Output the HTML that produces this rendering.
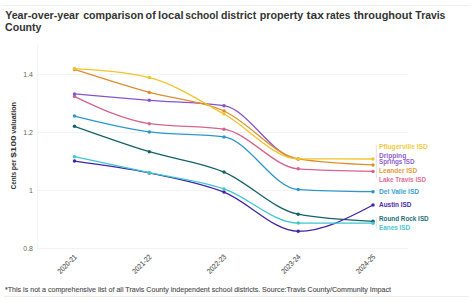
<!DOCTYPE html>
<html><head><meta charset="utf-8"><style>
html,body{margin:0;padding:0;background:#fff;width:474px;height:302px;overflow:hidden;}
svg{position:absolute;left:0;top:0;font-family:"Liberation Sans",sans-serif;}
</style></head><body>
<svg width="474" height="302" viewBox="0 0 474 302"><defs><clipPath id="clipds"><rect x="0" y="0" width="300" height="302"/></clipPath></defs>
<line x1="3" x2="469" y1="5.5" y2="5.5" stroke="#eeeeee" stroke-width="1"/>
<text x="5.16" y="18.6" font-size="10.1" font-weight="bold" fill="#333" textLength="74.00" lengthAdjust="spacingAndGlyphs">Year-over-year</text><text x="83.16" y="18.6" font-size="10.1" font-weight="bold" fill="#333" textLength="60.36" lengthAdjust="spacingAndGlyphs">comparison</text><text x="145.60" y="18.6" font-size="10.1" font-weight="bold" fill="#333" textLength="10.12" lengthAdjust="spacingAndGlyphs">of</text><text x="158.04" y="18.6" font-size="10.1" font-weight="bold" fill="#333" textLength="25.48" lengthAdjust="spacingAndGlyphs">local</text><text x="185.38" y="18.6" font-size="10.1" font-weight="bold" fill="#333" textLength="33.02" lengthAdjust="spacingAndGlyphs">school</text><text x="220.94" y="18.6" font-size="10.1" font-weight="bold" fill="#333" textLength="35.34" lengthAdjust="spacingAndGlyphs">district</text><text x="259.82" y="18.6" font-size="10.1" font-weight="bold" fill="#333" textLength="43.46" lengthAdjust="spacingAndGlyphs">property</text><text x="306.60" y="18.6" font-size="10.1" font-weight="bold" fill="#333" textLength="17.36" lengthAdjust="spacingAndGlyphs">tax</text><text x="326.04" y="18.6" font-size="10.1" font-weight="bold" fill="#333" textLength="24.36" lengthAdjust="spacingAndGlyphs">rates</text><text x="353.72" y="18.6" font-size="10.1" font-weight="bold" fill="#333" textLength="58.34" lengthAdjust="spacingAndGlyphs">throughout</text><text x="415.38" y="18.6" font-size="10.1" font-weight="bold" fill="#333" textLength="30.02" lengthAdjust="spacingAndGlyphs">Travis</text>
<text x="5" y="30.5" font-size="10.1" font-weight="bold" fill="#333" textLength="36.5" lengthAdjust="spacingAndGlyphs">County</text>
<line x1="37.5" x2="37.5" y1="44" y2="248.5" stroke="#f4f4f4" stroke-width="1"/>
<line x1="37" x2="408" y1="74.5" y2="74.5" stroke="#f3f3f3" stroke-width="1"/>
<text x="33" y="77.0" text-anchor="end" font-size="7" fill="#666">1.4</text>
<line x1="37" x2="408" y1="132.5" y2="132.5" stroke="#f3f3f3" stroke-width="1"/>
<text x="33" y="135.0" text-anchor="end" font-size="7" fill="#666">1.2</text>
<line x1="37" x2="408" y1="190.5" y2="190.5" stroke="#f3f3f3" stroke-width="1"/>
<text x="33" y="193.0" text-anchor="end" font-size="7" fill="#666">1</text>
<line x1="37" x2="408" y1="248.5" y2="248.5" stroke="#f3f3f3" stroke-width="1"/>
<text x="33" y="251.0" text-anchor="end" font-size="7" fill="#666">0.8</text>

<g transform="translate(15.6,0) rotate(-90)"><text x="-189.20" y="0" font-size="7.2" font-weight="bold" fill="#333" textLength="17.30" lengthAdjust="spacingAndGlyphs">Cents</text><text x="-170.20" y="0" font-size="7.2" font-weight="bold" fill="#333" textLength="10.70" lengthAdjust="spacingAndGlyphs">per</text><text x="-157.70" y="0" font-size="7.2" font-weight="bold" fill="#333" textLength="22.20" lengthAdjust="spacingAndGlyphs">$100</text><text x="-133.70" y="0" font-size="7.2" font-weight="bold" fill="#333" textLength="31.70" lengthAdjust="spacingAndGlyphs">valuation</text></g>
<text transform="translate(77.3,257.4) rotate(-45)" text-anchor="end" font-size="7.5" fill="#555" stroke="#555" stroke-width="0.12" textLength="23.8" lengthAdjust="spacingAndGlyphs">2020-21</text>
<text transform="translate(152.1,257.4) rotate(-45)" text-anchor="end" font-size="7.5" fill="#555" stroke="#555" stroke-width="0.12" textLength="23.8" lengthAdjust="spacingAndGlyphs">2021-22</text>
<text transform="translate(226.8,257.4) rotate(-45)" text-anchor="end" font-size="7.5" fill="#555" stroke="#555" stroke-width="0.12" textLength="23.8" lengthAdjust="spacingAndGlyphs">2022-23</text>
<text transform="translate(301.0,257.4) rotate(-45)" text-anchor="end" font-size="7.5" fill="#555" stroke="#555" stroke-width="0.12" textLength="23.8" lengthAdjust="spacingAndGlyphs">2023-24</text>
<text transform="translate(375.8,257.4) rotate(-45)" text-anchor="end" font-size="7.5" fill="#555" stroke="#555" stroke-width="0.12" textLength="23.8" lengthAdjust="spacingAndGlyphs">2024-25</text>

<line x1="376.3" x2="376.3" y1="145" y2="178" stroke="#d5d9e0" stroke-width="0.8"/>
<line x1="376.3" x2="376.3" y1="218" y2="228" stroke="#d5d9e0" stroke-width="0.8"/>
<path d="M74.50,126.30C99.43,135.18,124.37,144.06,149.30,151.70C174.20,159.33,199.10,161.62,224.00,172.10C248.73,182.51,273.47,209.50,298.20,214.20C323.13,218.93,348.07,220.12,373.00,221.30" fill="none" stroke="#146269" stroke-width="1.3"/>
<circle cx="74.5" cy="126.3" r="1.75" fill="#146269"/>
<circle cx="149.3" cy="151.7" r="1.75" fill="#146269"/>
<circle cx="224.0" cy="172.1" r="1.75" fill="#146269"/>
<circle cx="298.2" cy="214.2" r="1.75" fill="#146269"/>
<circle cx="373.0" cy="221.3" r="1.75" fill="#146269"/>
<path d="M74.50,161.10C99.43,164.41,124.37,167.73,149.30,172.90C174.20,178.06,199.10,182.31,224.00,192.10C248.73,201.82,273.47,231.30,298.20,231.30C323.13,231.30,348.07,218.15,373.00,205.00" fill="none" stroke="#4224a6" stroke-width="1.3"/>
<circle cx="74.5" cy="161.1" r="1.75" fill="#4224a6"/>
<circle cx="149.3" cy="172.9" r="1.75" fill="#4224a6"/>
<circle cx="224.0" cy="192.1" r="1.75" fill="#4224a6"/>
<circle cx="298.2" cy="231.3" r="1.75" fill="#4224a6"/>
<circle cx="373.0" cy="205.0" r="1.75" fill="#4224a6"/>
<path d="M74.50,156.70C99.43,162.01,124.37,167.33,149.30,172.70C174.20,178.06,199.10,180.45,224.00,188.90C248.73,197.29,273.47,223.03,298.20,223.10C323.13,223.17,348.07,223.18,373.00,223.20" fill="none" stroke="#3ec6d2" stroke-width="1.3"/>
<circle cx="74.5" cy="156.7" r="1.75" fill="#3ec6d2"/>
<circle cx="149.3" cy="172.7" r="1.75" fill="#3ec6d2"/>
<circle cx="224.0" cy="188.9" r="1.75" fill="#3ec6d2"/>
<circle cx="298.2" cy="223.1" r="1.75" fill="#3ec6d2"/>
<circle cx="373.0" cy="223.2" r="1.75" fill="#3ec6d2"/>
<path d="M74.50,116.10C99.43,122.33,124.37,128.56,149.30,131.90C174.20,135.23,199.10,133.57,224.00,136.90C248.73,140.21,273.47,188.21,298.20,189.60C323.13,191.00,348.07,191.35,373.00,191.70" fill="none" stroke="#2d97cd" stroke-width="1.3"/>
<circle cx="74.5" cy="116.1" r="1.75" fill="#2d97cd"/>
<circle cx="149.3" cy="131.9" r="1.75" fill="#2d97cd"/>
<circle cx="224.0" cy="136.9" r="1.75" fill="#2d97cd"/>
<circle cx="298.2" cy="189.6" r="1.75" fill="#2d97cd"/>
<circle cx="373.0" cy="191.7" r="1.75" fill="#2d97cd"/>
<path d="M74.50,96.60C99.43,108.31,124.37,120.03,149.30,123.70C174.20,127.37,199.10,125.53,224.00,129.20C248.73,132.84,273.47,167.08,298.20,168.80C323.13,170.53,348.07,170.97,373.00,171.40" fill="none" stroke="#d6648b" stroke-width="1.3"/>
<circle cx="74.5" cy="96.6" r="1.75" fill="#d6648b"/>
<circle cx="149.3" cy="123.7" r="1.75" fill="#d6648b"/>
<circle cx="224.0" cy="129.2" r="1.75" fill="#d6648b"/>
<circle cx="298.2" cy="168.8" r="1.75" fill="#d6648b"/>
<circle cx="373.0" cy="171.4" r="1.75" fill="#d6648b"/>
<path d="M74.50,93.90C99.43,96.12,124.37,98.33,149.30,100.30C174.20,102.27,199.10,102.10,224.00,105.70C248.73,109.28,273.47,158.83,298.20,158.90C323.13,158.97,348.07,158.98,373.00,159.00" fill="none" stroke="#8653cc" stroke-width="1.3" clip-path="url(#clipds)"/>
<circle cx="74.5" cy="93.9" r="1.75" fill="#8653cc"/>
<circle cx="149.3" cy="100.3" r="1.75" fill="#8653cc"/>
<circle cx="224.0" cy="105.7" r="1.75" fill="#8653cc"/>
<circle cx="298.2" cy="158.9" r="1.75" fill="#8653cc"/>
<path d="M74.50,69.40C99.43,77.43,124.37,85.46,149.30,92.40C174.20,99.33,199.10,99.85,224.00,111.00C248.73,122.08,273.47,154.93,298.20,158.90C323.13,162.90,348.07,163.90,373.00,164.90" fill="none" stroke="#e08e2c" stroke-width="1.3"/>
<circle cx="74.5" cy="69.4" r="1.75" fill="#e08e2c"/>
<circle cx="149.3" cy="92.4" r="1.75" fill="#e08e2c"/>
<circle cx="224.0" cy="111.0" r="1.75" fill="#e08e2c"/>
<circle cx="298.2" cy="158.9" r="1.75" fill="#e08e2c"/>
<circle cx="373.0" cy="164.9" r="1.75" fill="#e08e2c"/>
<path d="M74.50,68.60C99.43,70.10,124.37,71.60,149.30,77.60C174.20,83.59,199.10,100.39,224.00,114.00C248.73,127.51,273.47,158.83,298.20,158.90C323.13,158.97,348.07,158.98,373.00,159.00" fill="none" stroke="#f0c42a" stroke-width="1.3"/>
<circle cx="74.5" cy="68.6" r="1.75" fill="#f0c42a"/>
<circle cx="149.3" cy="77.6" r="1.75" fill="#f0c42a"/>
<circle cx="224.0" cy="114.0" r="1.75" fill="#f0c42a"/>
<circle cx="298.2" cy="158.9" r="1.75" fill="#f0c42a"/>
<circle cx="373.0" cy="159.0" r="1.75" fill="#f0c42a"/>
<text x="379" y="148.7" font-size="6.7" font-weight="bold" fill="#f0cc3e" textLength="48.8" lengthAdjust="spacingAndGlyphs">Pflugerville ISD</text>
<text x="379" y="158.1" font-size="6.7" font-weight="bold" fill="#8f62d2" textLength="27.2" lengthAdjust="spacingAndGlyphs">Dripping</text>
<text x="379" y="163.6" font-size="6.7" font-weight="bold" fill="#8f62d2" textLength="35.5" lengthAdjust="spacingAndGlyphs">Springs ISD</text>
<text x="379" y="172.9" font-size="6.7" font-weight="bold" fill="#e59a45" textLength="38.2" lengthAdjust="spacingAndGlyphs">Leander ISD</text>
<text x="379" y="182.2" font-size="6.7" font-weight="bold" fill="#de6e94" textLength="47.0" lengthAdjust="spacingAndGlyphs">Lake Travis ISD</text>
<text x="379" y="193.8" font-size="6.7" font-weight="bold" fill="#3ba2d6" textLength="40.1" lengthAdjust="spacingAndGlyphs">Del Valle ISD</text>
<text x="379" y="207.2" font-size="6.7" font-weight="bold" fill="#4a2cae" textLength="32.5" lengthAdjust="spacingAndGlyphs">Austin ISD</text>
<text x="379" y="220.9" font-size="6.7" font-weight="bold" fill="#1f6f76" textLength="49.7" lengthAdjust="spacingAndGlyphs">Round Rock ISD</text>
<text x="379" y="229.5" font-size="6.7" font-weight="bold" fill="#4cc6d0" textLength="31.2" lengthAdjust="spacingAndGlyphs">Eanes ISD</text>

<text x="5" y="291.8" font-size="7.1" fill="#4a4a4a" stroke="#4a4a4a" stroke-width="0.1" textLength="386" lengthAdjust="spacingAndGlyphs">*This is not a comprehensive list of all Travis County independent school districts. Source:Travis County/Community Impact</text>
<line x1="4" x2="469" y1="296.5" y2="296.5" stroke="#eeeeee" stroke-width="1"/>
</svg>
</body></html>
